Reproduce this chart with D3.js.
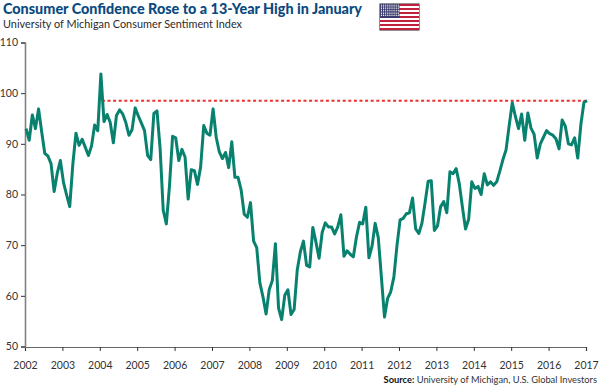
<!DOCTYPE html>
<html><head><meta charset="utf-8">
<script src="https://cdn.jsdelivr.net/npm/d3@7"></script>
<style>html,body{margin:0;padding:0;background:#fff}svg{display:block}</style></head>
<body><svg id="c" width="600" height="387"></svg>
<script>
const titleText = "Consumer Confidence Rose to a 13-Year High in January";
const subtitleText = "University of Michigan Consumer Sentiment Index";
const sourceBold = "Source:";
const sourceText = " University of Michigan, U.S. Global Investors";
const yTicks = [50,60,70,80,90,100,110];
const years = d3.range(2002,2018);
const sentiment = [
93.0,90.7,95.7,93.0,96.9,92.4,88.1,87.6,86.1,80.6,84.2,86.7,
82.4,79.9,77.6,86.0,92.1,89.7,90.9,89.3,87.7,89.6,93.7,92.6,
103.8,94.4,95.8,94.2,90.2,95.6,96.7,95.9,94.2,91.7,92.8,97.1,
95.5,94.1,92.6,87.7,86.9,96.0,96.5,89.1,76.9,74.2,81.6,91.5,
91.2,86.7,88.9,87.4,79.1,84.9,84.7,82.0,85.4,93.6,92.1,91.7,
96.9,91.3,88.4,87.1,88.3,85.3,90.4,83.4,83.4,80.9,76.1,75.5,
78.4,70.8,69.5,62.6,59.8,56.4,61.2,63.0,70.3,57.6,55.3,60.1,
61.2,56.3,57.3,65.1,68.7,70.8,66.0,65.7,73.5,70.6,67.4,72.5,
74.4,73.6,73.6,72.2,73.6,76.0,67.8,68.9,68.2,67.7,71.6,74.5,
74.2,77.5,67.5,69.8,74.3,71.5,63.7,55.8,59.5,60.8,63.7,69.9,
75.0,75.3,76.2,76.4,79.3,73.2,72.3,74.3,78.3,82.6,82.7,72.9,
73.8,77.6,78.6,76.4,84.5,84.1,85.1,82.1,77.5,73.2,75.1,82.5,
81.2,81.6,80.0,84.1,81.9,82.5,81.8,82.5,84.6,86.9,88.8,93.6,
98.1,95.4,93.0,95.9,90.7,96.1,93.1,91.9,87.2,90.0,91.3,92.6,
92.0,91.7,91.0,89.0,94.7,93.5,90.0,89.8,91.2,87.2,93.8,98.2,
98.5];
const refLevel = 98.5, refStartMonth = 24;
const flagStripes = d3.range(13);

const svg = d3.select("#c");
const sans = "Lato, 'Open Sans', sans-serif";
const x = d3.scaleLinear().domain([2002,2017]).range([25,586]);
const y = d3.scaleLinear().domain([50,110]).range([346.5,42.5]);
const xm = i => x(2002 + (i+0.35)/12);

svg.append("text").attr("x",3).attr("y",13.5).attr("font-family",sans).attr("font-weight",900)
  .attr("font-size",15.2).attr("fill","#0b4a80").attr("textLength",359).attr("lengthAdjust","spacingAndGlyphs").text(titleText);
svg.append("text").attr("x",3).attr("y",28).attr("font-family",sans)
  .attr("font-size",11.6).attr("fill","#2b2b2b").attr("textLength",239).attr("lengthAdjust","spacingAndGlyphs").text(subtitleText);

const gx = svg.append("g").attr("transform","translate(0,347)")
  .call(d3.axisBottom(x).tickValues(years).tickFormat(d3.format("d")).tickSize(4).tickPadding(11));
const gy = svg.append("g").attr("transform","translate(25,0)")
  .call(d3.axisLeft(y).tickValues(yTicks).tickSize(4).tickPadding(3));
gx.select(".domain").attr("stroke","#666").attr("stroke-width",1.2);
gy.select(".domain").attr("stroke","#808080").attr("stroke-width",1.6);
svg.selectAll(".tick line").attr("stroke","#333");
svg.selectAll(".tick text").attr("font-family",sans).attr("font-size",10.5).attr("fill","#333");

svg.append("line").attr("x1",xm(refStartMonth)+1).attr("x2",xm(sentiment.length-1))
  .attr("y1",y(refLevel)).attr("y2",y(refLevel))
  .attr("stroke","#ee2d2d").attr("stroke-width",2).attr("stroke-dasharray","3 2.6");
svg.append("path").datum(sentiment)
  .attr("d",d3.line().x((d,i)=>xm(i)).y(d=>y(d)))
  .attr("fill","none").attr("stroke","#08826f").attr("stroke-width",3).attr("stroke-linejoin","round");

const src = svg.append("text").attr("x",597).attr("y",383).attr("text-anchor","end")
  .attr("font-family",sans).attr("font-size",9.3).attr("fill","#333");
src.append("tspan").attr("font-weight",700).attr("fill","#111").text(sourceBold);
src.append("tspan").text(sourceText);

const fx = d3.scaleLinear().domain([0,1]).range([380,419]);
const fy = d3.scaleBand().domain(flagStripes).range([4,30]);
const flag = svg.append("g");
flag.append("rect").attr("x",379.5).attr("y",3.5).attr("width",40).attr("height",27).attr("fill","#222");
flag.selectAll("rect.s").data(flagStripes).join("rect").attr("class","s")
  .attr("x",fx(0)).attr("width",fx(1)-fx(0)).attr("y",d=>fy(d)).attr("height",fy.bandwidth())
  .attr("fill",d=>d%2?"#fff":"#c1213f");
flag.append("rect").attr("x",fx(0)).attr("y",fy(0)).attr("width",fx(0.5)-fx(0)).attr("height",fy(7)-fy(0)).attr("fill","#3b3b6d");
const sx = d3.range(9), sy = d3.range(7);
flag.selectAll("g").data(sy).join("g").selectAll("circle").data(r=>sx.map(c=>[c,r])).join("circle")
  .attr("cx",d=>fx(0)+1.5+d[0]*2.1).attr("cy",d=>fy(0)+1.2+d[1]*1.7).attr("r",0.6).attr("fill","#fff");
</script></body></html>
